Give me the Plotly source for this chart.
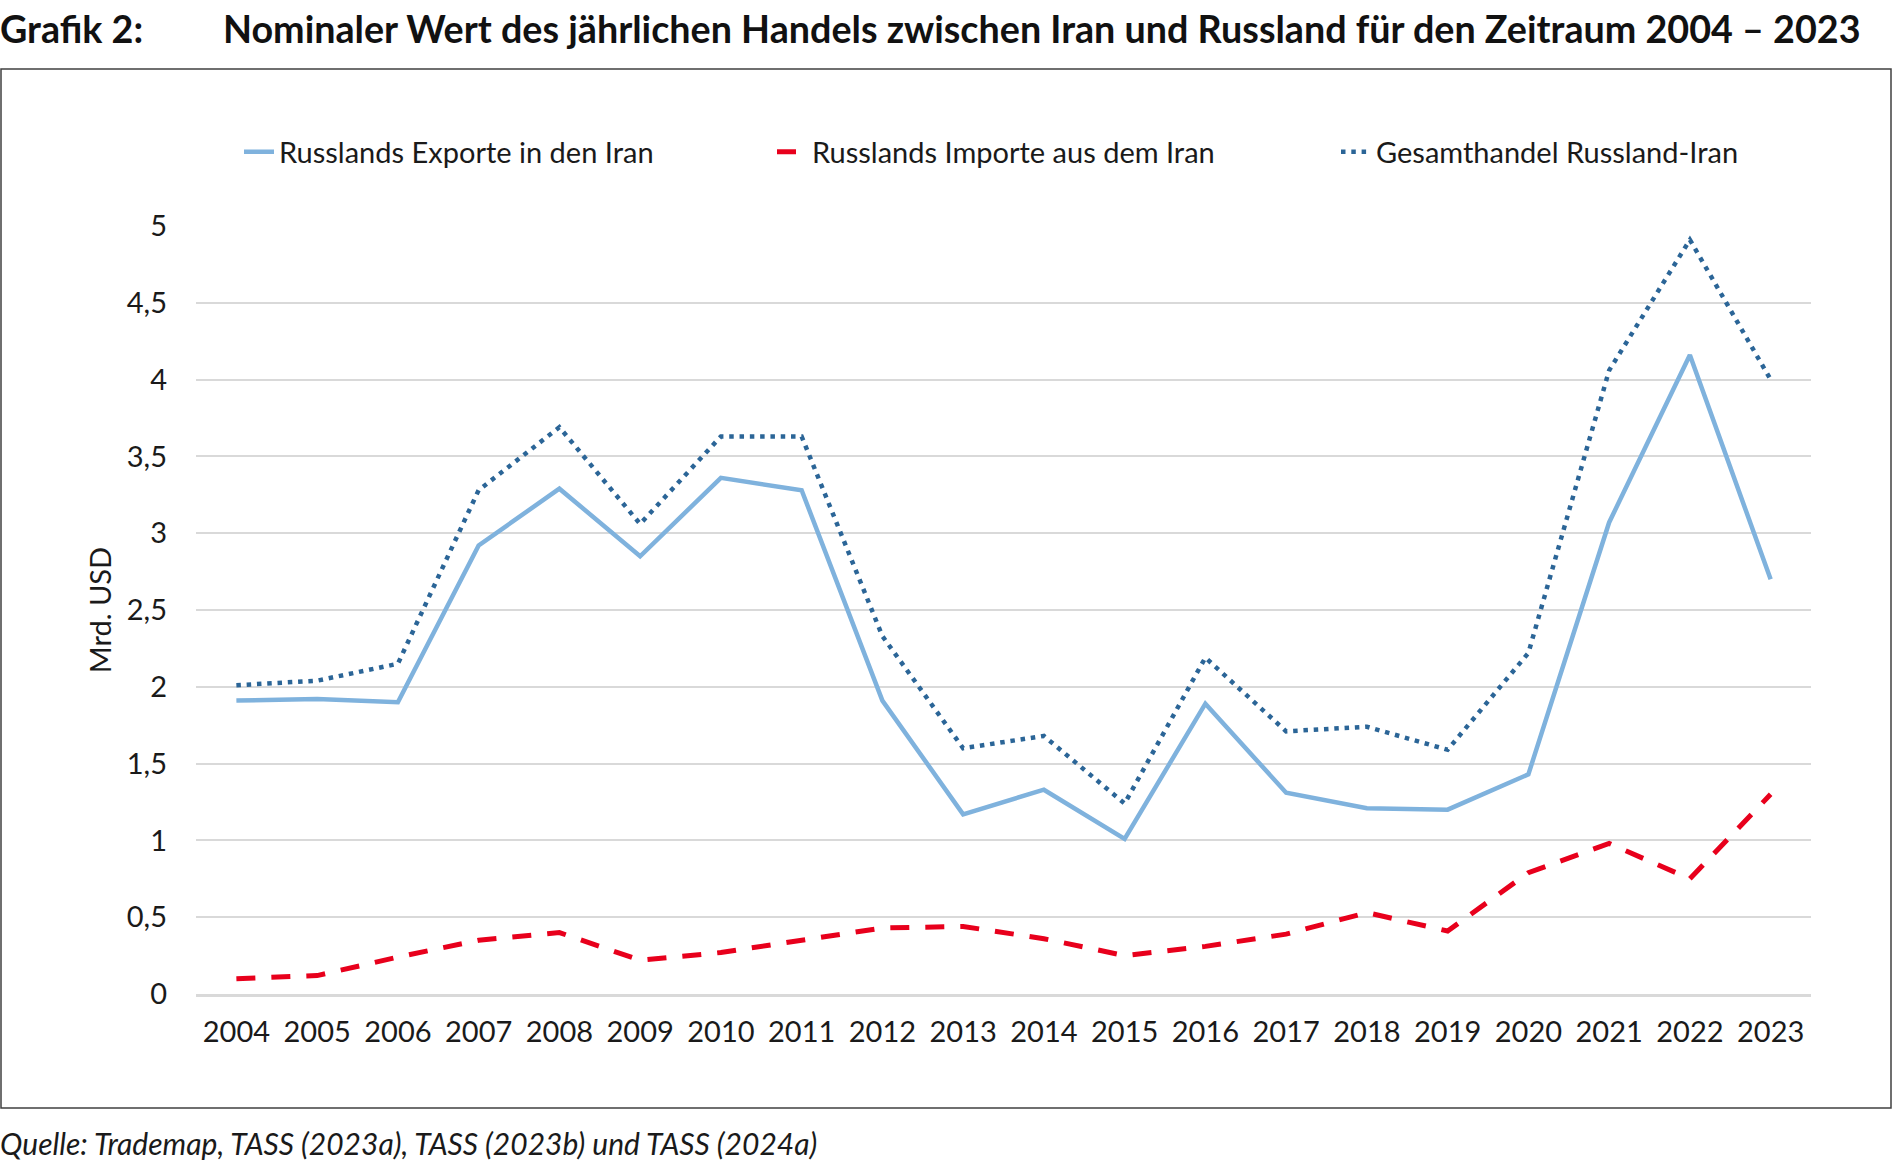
import plotly.graph_objects as go

years = [str(y) for y in range(2004, 2024)]
exports = [1.91, 1.92, 1.90, 2.92, 3.29, 2.85, 3.36, 3.28, 1.91, 1.17,
           1.33, 1.01, 1.89, 1.31, 1.21, 1.20, 1.43, 3.07, 4.16, 2.70]
imports = [0.10, 0.12, 0.24, 0.35, 0.40, 0.22, 0.27, 0.35, 0.43, 0.44,
           0.36, 0.25, 0.31, 0.39, 0.53, 0.41, 0.79, 0.98, 0.75, 1.30]
total = [2.01, 2.04, 2.15, 3.28, 3.69, 3.06, 3.63, 3.63, 2.33, 1.60,
         1.68, 1.24, 2.19, 1.71, 1.74, 1.59, 2.22, 4.06, 4.91, 4.00]
names = ["Russlands Exporte in den Iran", "Russlands Importe aus dem Iran",
         "Gesamthandel Russland-Iran"]
y_ticks = [0, 0.5, 1, 1.5, 2, 2.5, 3, 3.5, 4, 4.5, 5]

FONT = "Lato, 'Open Sans', sans-serif"
TXT = "#1a1a1a"

L, R, T, B = 196, 82, 226, 174
W, H = 1893, 1168
pw = W - L - R
ph = H - T - B


def px(x):
    return (x - L) / pw


def py(y):
    return (H - B - y) / ph


fig = go.Figure()
fig.add_trace(go.Scatter(x=years, y=exports, name=names[0], mode="lines",
                         legend="legend",
                         line=dict(color="#7FB2DD", width=4.5)))
fig.add_trace(go.Scatter(x=years, y=imports, name=names[1], mode="lines",
                         legend="legend2",
                         line=dict(color="#E8001C", width=5, dash="19px,16px")))
fig.add_trace(go.Scatter(x=years, y=total, name=names[2], mode="lines",
                         legend="legend3",
                         line=dict(color="#2B6597", width=4.5, dash="4.5px,5.8px")))

leg_common = dict(orientation="h", xanchor="left", y=py(152), yanchor="middle",
                  font=dict(size=29, color=TXT, family=FONT),
                  bgcolor="rgba(0,0,0,0)")

fig.update_layout(
    width=W, height=H,
    margin=dict(l=L, r=R, t=T, b=B),
    paper_bgcolor="white", plot_bgcolor="white",
    separators=",.",
    font=dict(family=FONT, size=29, color=TXT),
    showlegend=True,
    legend=dict(x=px(279 - 40), **leg_common),
    legend2=dict(x=px(812 - 40), **leg_common),
    legend3=dict(x=px(1376 - 40), **leg_common),
    xaxis=dict(type="category", range=[-0.5, 19.5], showgrid=False,
               showline=True, linecolor="#D9D9D9", linewidth=2.5,
               ticks="", ticklabelstandoff=10, tickfont=dict(size=29, color=TXT)),
    yaxis=dict(range=[0, 5], tickvals=y_ticks, showgrid=True, gridcolor="#D9D9D9",
               gridwidth=2, zeroline=False, showline=False,
               ticklabelstandoff=28, tickfont=dict(size=29, color=TXT),
               title=dict(text="Mrd. USD", standoff=6, font=dict(size=29, color=TXT))),
    shapes=[dict(type="rect", xref="paper", yref="paper",
                 x0=px(1), x1=px(1891), y0=py(1108), y1=py(69),
                 line=dict(color="#404040", width=1.5))],
    annotations=[
        dict(text="<b>Grafik 2:</b>", xref="paper", yref="paper", x=px(-2), y=py(29),
             xanchor="left", yanchor="middle", showarrow=False,
             font=dict(size=37.7, color="#111111", family=FONT)),
        dict(text="<b>Nominaler Wert des jährlichen Handels zwischen Iran und Russland für den Zeitraum 2004 – 2023</b>",
             xref="paper", yref="paper", x=px(221), y=py(29),
             xanchor="left", yanchor="middle", showarrow=False,
             font=dict(size=37.7, color="#111111", family=FONT)),
        dict(text="<i>Quelle: Trademap, TASS (2023a), TASS (2023b) und TASS (2024a)</i>",
             xref="paper", yref="paper", x=px(-2), y=py(1143),
             xanchor="left", yanchor="middle", showarrow=False,
             font=dict(size=30, color=TXT, family=FONT)),
    ],
)

fig.write_html("out.html", config={"displayModeBar": False},
               post_script="document.body.style.margin='0';document.body.style.overflow='hidden';")
